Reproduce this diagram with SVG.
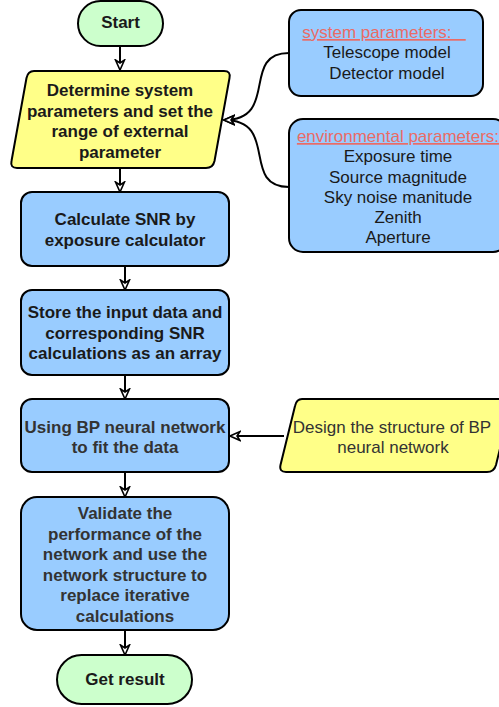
<svg xmlns="http://www.w3.org/2000/svg" width="499" height="707" viewBox="0 0 499 707">
<defs>
<style>
.t{font-family:"Liberation Sans",Arial,sans-serif;font-size:17px;text-anchor:middle}
.b{font-weight:bold}
.dk{fill:#1a1a1a}
.gr{fill:#333333}
.red{fill:#ea6b66;text-decoration:underline}
.n{stroke:#000;stroke-width:2}
.grn{fill:#ccffcc}
.yel{fill:#ffff88}
.blu{fill:#99ccff}
.c{fill:none;stroke:#000;stroke-width:2}
</style>
<marker id="ah" markerWidth="12" markerHeight="12" viewBox="0 0 12 12" refX="11" refY="6" orient="auto" markerUnits="userSpaceOnUse">
<path d="M1,1.5 L11,6 L1,10.5 L4,6 Z" fill="#fff" stroke="#000" stroke-width="1.6" stroke-linejoin="miter"/>
</marker>
</defs>
<g id="connectors">
<line class="c" x1="120" y1="46" x2="120" y2="70" marker-end="url(#ah)"/>
<line class="c" x1="120" y1="168" x2="120" y2="192" marker-end="url(#ah)"/>
<line class="c" x1="125" y1="266" x2="125" y2="290" marker-end="url(#ah)"/>
<line class="c" x1="125" y1="375" x2="125" y2="399" marker-end="url(#ah)"/>
<line class="c" x1="125" y1="472" x2="125" y2="497" marker-end="url(#ah)"/>
<line class="c" x1="125" y1="630" x2="125" y2="655" marker-end="url(#ah)"/>
<line class="c" x1="284" y1="436" x2="230" y2="436" marker-end="url(#ah)"/>
<path class="c" d="M289,53 C240,53 280,120 224,120" marker-end="url(#ah)"/>
<path class="c" d="M289,187 C240,187 280,120 224,120" marker-end="url(#ah)"/>
</g>
<g id="start">
<rect class="n grn" x="78" y="1" width="85" height="45" rx="22.5"/>
<text class="t b dk" x="120.5" y="28">Start</text>
</g>
<g id="determine">
<path class="n yel" d="M34,71 L224,71 Q231,71 229.5,78 L214.5,161 Q213,168 206,168 L17,168 Q10,168 11.5,161 L26.5,78 Q28,71 34,71 Z"/>
<text class="t b dk" x="120" y="96">Determine system</text>
<text class="t b dk" x="120" y="116.5">parameters and set the</text>
<text class="t b dk" x="120" y="137">range of external</text>
<text class="t b dk" x="120" y="157.5">parameter</text>
</g>
<g id="system">
<rect class="n blu" x="289" y="10" width="194" height="86" rx="12"/>
<text class="t red" x="384" y="38" xml:space="preserve">system parameters:   </text>
<text class="t dk" x="387" y="58">Telescope model</text>
<text class="t dk" x="387" y="79">Detector model</text>
</g>
<g id="environmental">
<rect class="n blu" x="289" y="119" width="218" height="133" rx="14"/>
<text class="t red" x="398" y="142">environmental parameters:</text>
<text class="t dk" x="398" y="162">Exposure time</text>
<text class="t dk" x="398" y="183">Source magnitude</text>
<text class="t dk" x="398" y="203">Sky noise manitude</text>
<text class="t dk" x="398" y="223">Zenith</text>
<text class="t dk" x="398" y="243">Aperture</text>
</g>
<g id="calculate">
<rect class="n blu" x="21" y="192" width="208" height="74" rx="11"/>
<text class="t b dk" x="125" y="225">Calculate SNR by</text>
<text class="t b dk" x="125" y="246">exposure calculator</text>
</g>
<g id="store">
<rect class="n blu" x="21" y="290" width="208" height="85" rx="11"/>
<text class="t b dk" x="125" y="318">Store the input data and</text>
<text class="t b dk" x="125" y="339">corresponding SNR</text>
<text class="t b dk" x="125" y="359">calculations as an array</text>
</g>
<g id="using">
<rect class="n blu" x="21" y="399" width="208" height="73" rx="11"/>
<text class="t b gr" x="125" y="433">Using BP neural network</text>
<text class="t b gr" x="125" y="453">to fit the data</text>
</g>
<g id="design">
<path class="n yel" d="M302,399 L512,399 L496,465 Q494,472 487,472 L286,472 Q279,472 280.5,465 L295,406 Q296.5,399 302,399 Z"/>
<text class="t gr" x="392" y="433">Design the structure of BP</text>
<text class="t gr" x="393" y="453">neural network</text>
</g>
<g id="validate">
<rect class="n blu" x="21" y="497" width="208" height="133" rx="16"/>
<text class="t b gr" x="125" y="519">Validate the</text>
<text class="t b gr" x="125" y="539.5">performance of the</text>
<text class="t b gr" x="125" y="560">network and use the</text>
<text class="t b gr" x="125" y="580.5">network structure to</text>
<text class="t b gr" x="125" y="601">replace iterative</text>
<text class="t b gr" x="125" y="621.5">calculations</text>
</g>
<g id="result">
<rect class="n grn" x="57" y="655" width="135" height="49" rx="24.5"/>
<text class="t b dk" x="125" y="685">Get result</text>
</g>
</svg>
